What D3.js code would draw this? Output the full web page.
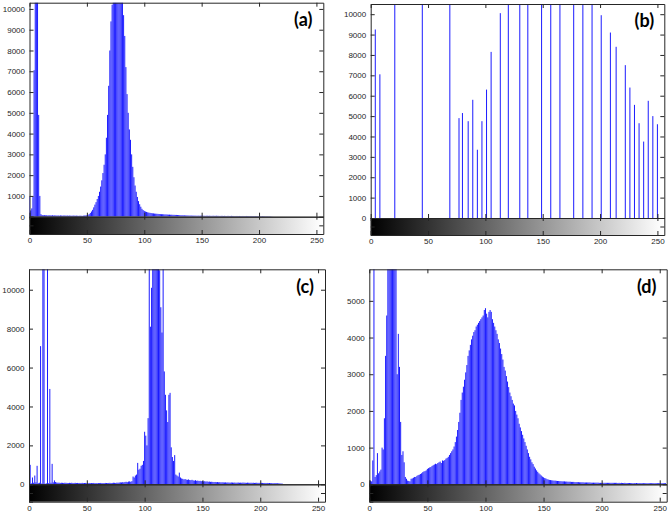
<!DOCTYPE html>
<html>
<head>
<meta charset="utf-8">
<script src="https://cdn.jsdelivr.net/npm/d3@7"></script>
<style>
  body { margin: 0; background: #fff; }
  svg { display: block; }
  .tick text { font-family: "Liberation Sans", Arial, sans-serif; font-size: 8px; fill: #262626; }
</style>
</head>
<body>
<div id="app"></div>
<script>
const width = 669;
const height = 516;

// grey levels shared by the full histograms (a), (c), (d)
const grayLevels = d3.range(256);

// (a) histogram counts
const countsA = [
  950, 300, 400, 950, 7050, 15000, 16500, 12000, 4900, 1000, 120, 80, 70, 75, 65, 70,
  60, 70, 65, 60, 70, 55, 65, 60, 55, 60, 50, 60, 55, 50, 60, 55,
  50, 55, 45, 55, 50, 45, 55, 50, 45, 50, 45, 40, 50, 45, 40, 50,
  55, 60, 70, 90, 120, 180, 250, 330, 450, 580, 700, 850, 1000, 1200, 1450, 1750,
  2100, 2500, 3000, 3800, 4900, 6300, 8000, 9400, 10200, 11800, 12800, 13500, 14000, 13600, 12800, 11900,
  11000, 10400, 9700, 8700, 7200, 5900, 5000, 4200, 3700, 3000, 2400, 1900, 1500, 1200, 950, 750,
  600, 480, 380, 320, 280, 250, 230, 210, 195, 185, 175, 165, 160, 150, 145, 140,
  135, 130, 125, 120, 120, 115, 110, 110, 105, 100, 100, 95, 95, 90, 90, 85,
  85, 80, 80, 75, 70, 70, 65, 65, 60, 60, 60, 55, 55, 55, 50, 50,
  50, 50, 45, 50, 45, 45, 50, 45, 45, 40, 45, 45, 40, 45, 40, 40,
  45, 40, 40, 45, 40, 40, 35, 40, 40, 35, 40, 35, 35, 40, 35, 35,
  40, 35, 35, 30, 35, 35, 30, 35, 30, 30, 35, 30, 30, 35, 30, 30,
  30, 35, 30, 30, 25, 30, 30, 25, 30, 25, 25, 30, 25, 25, 20, 25,
  20, 20, 15, 10, 5, 0, 0, 0, 0, 0, 0, 0, 0, 0, 0, 0,
  0, 0, 0, 0, 0, 0, 0, 0, 0, 0, 0, 0, 0, 0, 0, 0,
  0, 0, 0, 0, 0, 0, 0, 0, 0, 0, 0, 0, 0, 0, 0, 0
];

// (b) only a few grey levels are occupied
const levelsB = [4, 8, 21, 45, 69, 77, 80, 85, 89, 93, 97, 101, 105, 113, 120, 130, 137, 149, 157, 165,
  177, 185, 193, 201, 209, 214, 222, 226, 230, 234, 238, 242, 246, 250];
const countsB = [9250, 7050, 16000, 18000, 15000, 4900, 5150, 4750, 5800, 3350, 4750, 6300, 8150, 10050, 14000, 16000, 15000, 17000, 14000, 15000,
  16000, 15000, 13000, 9950, 9100, 8400, 7500, 6400, 5550, 4650, 3750, 5750, 5000, 4600];

// (c) histogram counts
const countsC = [
  50, 1000, 50, 350, 80, 450, 100, 950, 60, 80, 7100, 40, 15000, 14000, 30, 50,
  16000, 60, 4900, 80, 1050, 100, 200, 120, 90, 80, 85, 70, 80, 75, 70, 80,
  75, 70, 65, 75, 70, 80, 65, 70, 75, 65, 70, 60, 70, 65, 75, 60,
  65, 70, 60, 65, 70, 60, 65, 60, 70, 60, 65, 55, 65, 60, 70, 60,
  65, 60, 70, 65, 60, 70, 75, 65, 70, 80, 75, 70, 85, 80, 90, 100,
  95, 110, 100, 120, 130, 110, 140, 150, 130, 160, 400, 350, 450, 500, 1100, 750,
  800, 950, 1000, 1200, 2700, 2500, 2000, 3400, 13000, 8100, 10100, 13000, 14500, 15000, 14500, 13500,
  12500, 11000, 9100, 7800, 12000, 5800, 4600, 3800, 3200, 4600, 4700, 1900, 1400, 1200, 1500, 500,
  450, 400, 600, 350, 300, 280, 250, 270, 240, 230, 250, 220, 210, 230, 200, 190,
  210, 180, 190, 170, 180, 160, 170, 150, 160, 140, 150, 130, 140, 125, 130, 120,
  115, 120, 110, 115, 105, 110, 100, 105, 100, 95, 100, 90, 95, 90, 85, 95,
  90, 85, 90, 80, 85, 90, 80, 85, 80, 90, 85, 80, 75, 85, 80, 75,
  80, 75, 80, 70, 75, 80, 70, 75, 70, 75, 70, 65, 70, 65, 70, 60,
  65, 60, 65, 55, 60, 55, 50, 55, 50, 45, 40, 35, 0, 0, 0, 0,
  0, 0, 0, 0, 0, 0, 0, 0, 0, 0, 0, 0, 0, 0, 0, 0,
  0, 0, 0, 0, 0, 0, 0, 0, 0, 0, 0, 0, 0, 0, 0, 0
];

// (d) histogram counts
const countsD = [
  50, 100, 80, 650, 9000, 200, 250, 850, 300, 350, 400, 1000, 950, 1800, 3500, 4600,
  7000, 8500, 9500, 10000, 9800, 9000, 8000, 6500, 3000, 4100, 3200, 1700, 800, 900, 600, 200,
  150, 100, 90, 80, 150, 160, 180, 200, 200, 230, 250, 260, 280, 300, 330, 350,
  360, 380, 420, 440, 460, 470, 500, 520, 540, 560, 550, 580, 600, 620, 580, 650,
  640, 660, 700, 720, 750, 800, 850, 900, 950, 1030, 1150, 1300, 1480, 1700, 1950, 2300,
  2500, 2660, 2850, 3050, 3250, 3500, 3650, 3800, 3950, 4050, 4150, 4200, 4300, 4350, 4400, 4450,
  4500, 4550, 4600, 4750, 4800, 4650, 4550, 4700, 4750, 4700, 4500, 4400, 4300, 4200, 4100, 3950,
  3850, 3700, 3550, 3400, 3200, 3100, 2950, 2800, 2650, 2500, 2400, 2300, 2200, 2150, 2000, 1900,
  1800, 1650, 1550, 1450, 1350, 1250, 1150, 1050, 950, 850, 750, 680, 600, 550, 480, 430,
  380, 340, 300, 270, 240, 210, 190, 170, 160, 140, 130, 120, 115, 110, 105, 100,
  100, 95, 90, 90, 85, 85, 80, 80, 80, 75, 75, 70, 70, 70, 65, 65,
  65, 60, 60, 60, 60, 55, 55, 55, 55, 50, 50, 50, 50, 50, 50, 45,
  45, 45, 45, 45, 45, 45, 40, 40, 40, 40, 40, 40, 40, 40, 40, 40,
  40, 40, 40, 40, 40, 40, 35, 40, 35, 40, 35, 35, 40, 35, 35, 35,
  35, 35, 35, 30, 35, 30, 35, 30, 30, 35, 30, 30, 30, 30, 30, 30,
  30, 30, 30, 30, 30, 30, 30, 30, 30, 30, 30, 30, 30, 30, 30, 30
];

const xTicks = [0, 50, 100, 150, 200, 250];
const yTicksA = d3.range(0, 10001, 1000);
const yTicksB = d3.range(0, 10001, 1000);
const yTicksC = d3.range(0, 10001, 2000);
const yTicksD = d3.range(0, 5001, 1000);

const svg = d3.select('#app').append('svg')
  .attr('width', width)
  .attr('height', height);
const defs = svg.append('defs');

function panel(id, levels, counts, yTicks, yMax, box, label) {
  const g = svg.append('g');
  const x = d3.scaleLinear().domain([0, 256]).range([box.left, box.right]);
  const y = d3.scaleLinear().domain([0, yMax]).range([box.zero, box.top]);

  defs.append('clipPath').attr('id', 'clip-' + id)
    .append('rect')
    .attr('x', box.left).attr('y', box.top)
    .attr('width', box.right - box.left).attr('height', box.zero - box.top);

  // black to white ramp across the grey levels
  defs.append('linearGradient')
    .attr('id', 'ramp-' + id)
    .attr('gradientUnits', 'userSpaceOnUse')
    .attr('x1', x(0)).attr('x2', x(255)).attr('y1', 0).attr('y2', 0)
    .selectAll('stop')
    .data([0, 255])
    .join('stop')
    .attr('offset', (d)=>d / 255)
    .attr('stop-color', (d)=>d3.rgb(d, d, d));

  g.append('g')
    .attr('clip-path', `url(#clip-${id})`)
    .attr('stroke', '#0000ff')
    .attr('stroke-width', 0.9)
    .selectAll('line')
    .data(levels.map((l, i)=>({level: l, count: counts[i]})).filter((d)=>d.count > 0))
    .join('line')
    .attr('x1', (d)=>x(d.level))
    .attr('x2', (d)=>x(d.level))
    .attr('y1', y(0))
    .attr('y2', (d)=>y(d.count));

  g.append('rect')
    .attr('x', box.left).attr('y', box.zero)
    .attr('width', box.right - box.left).attr('height', box.bottom - box.zero)
    .attr('fill', `url(#ramp-${id})`);

  const style = (a)=>{
    a.selectAll('path, line').attr('stroke', '#262626');
  };

  g.append('g')
    .attr('transform', `translate(${box.left},0)`)
    .call(d3.axisLeft(y).tickValues(yTicks).tickSizeInner(-4).tickSizeOuter(0).tickPadding(4.5).tickFormat(d3.format('d')))
    .call(style);
  g.append('g')
    .attr('transform', `translate(${box.right},0)`)
    .call(d3.axisRight(y).tickValues(yTicks).tickSizeInner(-4).tickSizeOuter(0).tickFormat(''))
    .call(style);
  g.append('g')
    .attr('transform', `translate(0,${box.top})`)
    .call(d3.axisTop(x).tickValues(xTicks).tickSizeInner(-4).tickSizeOuter(0).tickFormat(''))
    .call(style);
  g.append('g')
    .attr('transform', `translate(0,${box.zero})`)
    .call(d3.axisBottom(x).tickValues(xTicks).tickSizeInner(-4).tickSizeOuter(0).tickFormat(''))
    .call(style);
  g.append('g')
    .attr('transform', `translate(0,${box.zero})`)
    .call(d3.axisTop(x).tickValues(xTicks).tickSizeInner(-3).tickSizeOuter(0).tickFormat(''))
    .call(style);
  g.append('g')
    .attr('transform', `translate(0,${box.bottom})`)
    .call(d3.axisBottom(x).tickValues(xTicks).tickSizeInner(-4).tickSizeOuter(0).tickPadding(3.5))
    .call(style);

  // colour bar side ticks
  const yBar = d3.scaleLinear().domain([0, 1]).range([box.bottom, box.zero]);
  g.append('g')
    .attr('transform', `translate(${box.left},0)`)
    .call(d3.axisLeft(yBar).tickValues([0, 0.5, 1]).tickSizeInner(-4).tickSizeOuter(0).tickFormat(''))
    .call(style);
  g.append('g')
    .attr('transform', `translate(${box.right},0)`)
    .call(d3.axisRight(yBar).tickValues([0.5]).tickSizeInner(-4).tickSizeOuter(0).tickFormat(''))
    .call(style);

  g.append('text')
    .attr('x', box.right - 20)
    .attr('y', box.top + label.dy)
    .attr('text-anchor', 'middle')
    .attr('font-family', 'Lato, "Open Sans", sans-serif')
    .attr('font-weight', 'bold')
    .attr('font-size', 18)
    .attr('fill', '#000')
    .text(label.text);
}

panel('a', grayLevels, countsA, yTicksA, 10300,
  {left: 29.5, right: 323.3, top: 2.7, zero: 216.7, bottom: 234}, {text: '(a)', dy: 23});
panel('b', levelsB, countsB, yTicksB, 10500,
  {left: 370.7, right: 664.3, top: 4, zero: 218, bottom: 235}, {text: '(b)', dy: 23});
panel('c', grayLevels, countsC, yTicksC, 11050,
  {left: 29, right: 325, top: 269.3, zero: 484.3, bottom: 501.7}, {text: '(c)', dy: 24});
panel('d', grayLevels, countsD, yTicksD, 5860,
  {left: 369.3, right: 666.7, top: 269.3, zero: 484.3, bottom: 501.7}, {text: '(d)', dy: 24});
</script>
</body>
</html>
